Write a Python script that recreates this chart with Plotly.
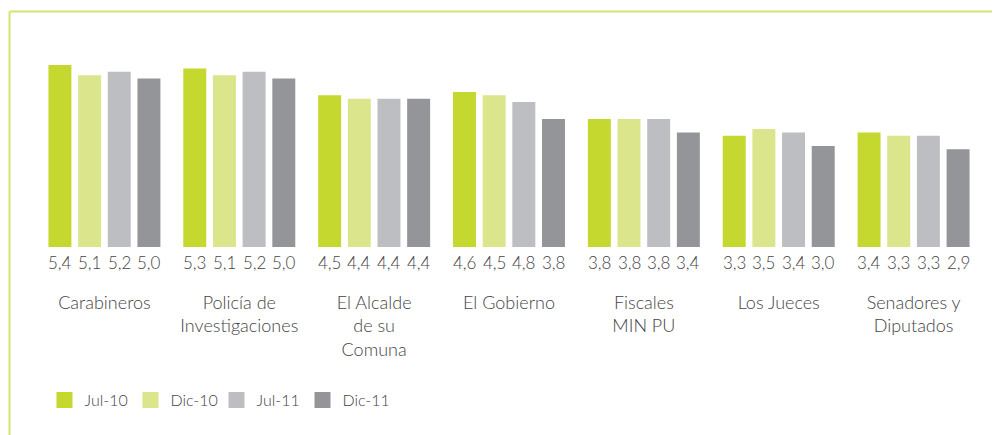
import plotly.graph_objects as go

categories = ["Carabineros", "Policía de<br>Investigaciones", "El Alcalde<br>de su<br>Comuna",
              "El Gobierno", "Fiscales<br>MIN PU", "Los Jueces", "Senadores y<br>Diputados"]
series_names = ["Jul-10", "Dic-10", "Jul-11", "Dic-11"]
# bar heights as drawn
jul10 = [5.4, 5.3, 4.5, 4.6, 3.8, 3.3, 3.4]
dic10 = [5.1, 5.1, 4.4, 4.5, 3.8, 3.5, 3.3]
jul11 = [5.2, 5.2, 4.4, 4.3, 3.8, 3.4, 3.3]
dic11 = [5.0, 5.0, 4.4, 3.8, 3.4, 3.0, 2.9]
# printed value labels under bars
lab_jul10 = ["5,4", "5,3", "4,5", "4,6", "3,8", "3,3", "3,4"]
lab_dic10 = ["5,1", "5,1", "4,4", "4,5", "3,8", "3,5", "3,3"]
lab_jul11 = ["5,2", "5,2", "4,4", "4,8", "3,8", "3,4", "3,3"]
lab_dic11 = ["5,0", "5,0", "4,4", "3,8", "3,4", "3,0", "2,9"]

colors = ["#c4d82f", "#dbe58b", "#bdbec1", "#949598"]
values = [jul10, dic10, jul11, dic11]
labels = [lab_jul10, lab_dic10, lab_jul11, lab_dic11]

FONT = "Lato"
WEIGHT = 300
TXT = "#444444"

fig = go.Figure()
for name, vals, col in zip(series_names, values, colors):
    fig.add_trace(go.Bar(x=categories, y=vals, name=name, marker_color=col,
                         marker_line_width=0, showlegend=False, hoverinfo="skip"))
for name, col in zip(series_names, colors):
    fig.add_trace(go.Scatter(x=[None], y=[None], mode="markers", name=name,
                             marker=dict(symbol="square", size=16, color=col)))

bargap = 0.12
slot = (1 - bargap) / 4
annotations = []
for j, labs in enumerate(labels):
    off = (j - 1.5) * slot
    for i, t in enumerate(labs):
        annotations.append(dict(x=i + off, y=0, xref="x", yref="y", text=t, showarrow=False,
                                yanchor="middle", yshift=-15,
                                font=dict(family=FONT, size=17, color=TXT, weight=WEIGHT)))

# page body has an 8px margin: figure origin sits at screen (8, 8)
FW, FH = 992, 427
L, T, W, H = 28.5, 32, 945, 207
def px(xs):
    return (xs - 8 - L) / W
def py(ys):
    return (T + H - (ys - 8)) / H

border = "#d5e46f"
shapes = [
    dict(type="line", xref="paper", yref="paper", x0=px(9), x1=px(1010), y0=py(11.5), y1=py(11.5),
         line=dict(color=border, width=2)),
    dict(type="line", xref="paper", yref="paper", x0=px(9), x1=px(9), y0=py(11.5), y1=py(445),
         line=dict(color=border, width=2)),
]

fig.update_layout(
    width=FW, height=FH,
    margin=dict(l=L, r=FW - L - W, t=T, b=FH - T - H, autoexpand=False),
    paper_bgcolor="white", plot_bgcolor="white",
    barmode="group", bargap=bargap, bargroupgap=0.226,
    font=dict(family=FONT, color=TXT, weight=WEIGHT),
    xaxis=dict(showline=False, showgrid=False, zeroline=False, ticks="",
               tickfont=dict(family=FONT, size=18, color=TXT, weight=WEIGHT), ticklabelstandoff=43,
               range=[-0.5, 6.5]),
    yaxis=dict(visible=False, range=[0, H / 33.7]),
    legend=dict(orientation="h", x=px(44), y=py(400), xanchor="left", yanchor="middle",
                font=dict(family=FONT, size=16, color=TXT, weight=WEIGHT), itemwidth=30,
                entrywidth=41, bgcolor="rgba(0,0,0,0)"),
    annotations=annotations, shapes=shapes,
)
fig.write_html("out.html")
